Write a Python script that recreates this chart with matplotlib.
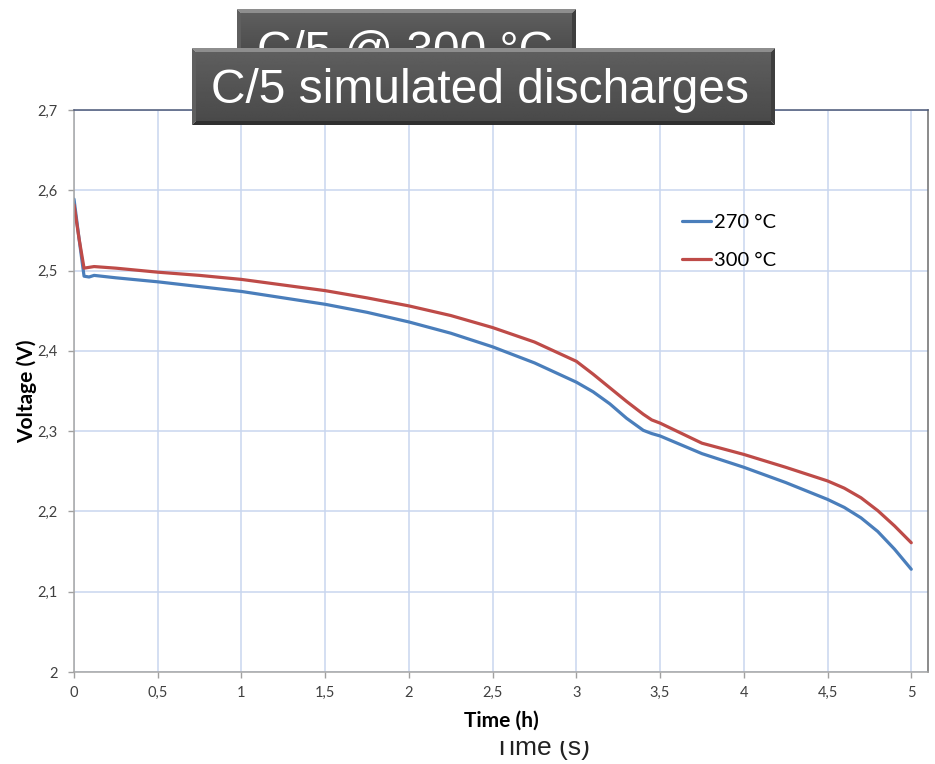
import numpy as np
import matplotlib
matplotlib.use("Agg")
import matplotlib.pyplot as plt
from matplotlib.patches import Polygon, Rectangle

# discharge curves (time in h, voltage in V)
time_h = [0, 0.03, 0.06, 0.09, 0.12, 0.25, 0.5, 0.75, 1.0, 1.25, 1.5, 1.75,
          2.0, 2.25, 2.5, 2.75, 3.0, 3.1, 3.2, 3.3, 3.4, 3.45, 3.5, 3.75,
          4.0, 4.25, 4.5, 4.6, 4.7, 4.8, 4.9, 5.0]
v_270 = [2.589, 2.540, 2.493, 2.492, 2.494, 2.491, 2.486, 2.480, 2.474, 2.466,
         2.458, 2.448, 2.436, 2.422, 2.405, 2.385, 2.361, 2.349, 2.334, 2.316,
         2.301, 2.297, 2.294, 2.272, 2.255, 2.236, 2.215, 2.205, 2.192, 2.175,
         2.153, 2.128]
v_300 = [2.582, 2.540, 2.503, 2.504, 2.505, 2.503, 2.498, 2.494, 2.489, 2.482,
         2.475, 2.466, 2.456, 2.444, 2.429, 2.411, 2.387, 2.371, 2.354, 2.337,
         2.321, 2.314, 2.310, 2.285, 2.271, 2.255, 2.238, 2.229, 2.217, 2.201,
         2.182, 2.161]
series_labels = ["270 °C", "300 °C"]
x_ticks = [0, 0.5, 1, 1.5, 2, 2.5, 3, 3.5, 4, 4.5, 5]
y_ticks = [2.0, 2.1, 2.2, 2.3, 2.4, 2.5, 2.6, 2.7]

W, H = 935, 764
fig = plt.figure(figsize=(W / 100, H / 100), dpi=100)

def fbox(x0, y0, x1, y1):
    # pixel box (top-left origin) -> figure fraction rect
    return [x0 / W, 1 - y1 / H, (x1 - x0) / W, (y1 - y0) / H]

ax = fig.add_axes(fbox(74, 110, 928, 672), zorder=0)
ax.plot(time_h, v_270, color="#4a7ebb", lw=2.3, label=series_labels[0],
        solid_capstyle="round", solid_joinstyle="round")
ax.plot(time_h, v_300, color="#be4b48", lw=2.3, label=series_labels[1],
        solid_capstyle="round", solid_joinstyle="round")
ax.set_xlim(0, 5.1)
ax.set_ylim(2.0, 2.7)
ax.set_xticks(x_ticks)
ax.set_yticks(y_ticks)
ax.set_xticklabels([f"{t:g}".replace(".", ",") for t in x_ticks])
ax.set_yticklabels([f"{v:g}".replace(".", ",") for v in y_ticks])
ax.grid(True, color="#c9d6ef", lw=1.1)
ax.set_axisbelow(True)
for lab in ax.get_xticklabels() + ax.get_yticklabels():
    lab.set_fontfamily("Lato")
    lab.set_fontsize(10.5)
    lab.set_color("#404040")
ax.tick_params(axis="both", direction="out", length=4, width=1, color="#a0a0a0")
ax.tick_params(axis="y", pad=8)
ax.tick_params(axis="x", pad=6)
ax.spines["left"].set_color("#a6a6a6")
ax.spines["bottom"].set_color("#a6a6a6")
ax.spines["top"].set_color("#4a5777")
ax.spines["right"].set_color("#6b6b6b")
for s in ax.spines.values():
    s.set_linewidth(1.1)

ax.text((501 - 74) / 854, -0.086, "Time (h)", transform=ax.transAxes, ha="center",
        va="center", fontfamily="Lato", fontweight="bold", fontsize=15)
ax.text((27 - 74) / 854, 0.5, "Voltage (V)", transform=ax.transAxes, ha="center",
        va="center", rotation=90, fontfamily="Lato", fontweight="bold", fontsize=15)

leg = ax.legend(loc="upper left", bbox_to_anchor=((682 - 74) / 854, (672 - 214) / 562),
                frameon=False, handlelength=1.45, handletextpad=0.15, labelspacing=1.05,
                borderpad=0, borderaxespad=0, prop={"family": "Lato", "size": 14.5})
for line in leg.get_lines():
    line.set_linewidth(2.3)

# leftover slide text, partly hidden behind the chart picture
fig.text(542 / W, 1 - 755 / H, "Time (s)", ha="center", va="baseline",
         fontfamily="Liberation Sans", fontsize=19, color="#222222", zorder=1)
fig.patches.append(Rectangle((470 / W, 1 - 741 / H), 150 / W, 9 / H,
                             transform=fig.transFigure, facecolor="white",
                             edgecolor="none", zorder=2))

def title_box(x0, y0, x1, y1, text, tx, ty, z):
    w, h = x1 - x0, y1 - y0
    bx = fig.add_axes(fbox(x0, y0, x1, y1), zorder=z)
    bx.set_xlim(0, w)
    bx.set_ylim(h, 0)
    bx.axis("off")
    b = 4
    grad = np.linspace(0.37, 0.29, 64)[:, None] * np.ones((1, 4))
    bx.imshow(grad, cmap="gray", vmin=0, vmax=1, extent=(b, w - b, h - b, b),
              aspect="auto", interpolation="bilinear")
    bx.add_patch(Polygon([(0, 0), (w, 0), (w - b, b), (b, b)], closed=True,
                         facecolor="#8e8e8e", edgecolor="none"))
    bx.add_patch(Polygon([(0, 0), (b, b), (b, h - b), (0, h)], closed=True,
                         facecolor="#5f5f5f", edgecolor="none"))
    bx.add_patch(Polygon([(w, 0), (w, h), (w - b, h - b), (w - b, b)], closed=True,
                         facecolor="#3e3e3e", edgecolor="none"))
    bx.add_patch(Polygon([(0, h), (w, h), (w - b, h - b), (b, h - b)], closed=True,
                         facecolor="#2f2f2f", edgecolor="none"))
    bx.text(tx - x0, ty - y0, text, ha="left", va="baseline", color="white",
            fontfamily="Liberation Sans", fontsize=34.5, clip_on=True)

title_box(237, 9, 576, 60, "C/5 @ 300 °C", 257, 65, 5)
title_box(192, 48, 775, 125, "C/5 simulated discharges", 211, 103, 7)

fig.savefig("out.png", dpi=100)
